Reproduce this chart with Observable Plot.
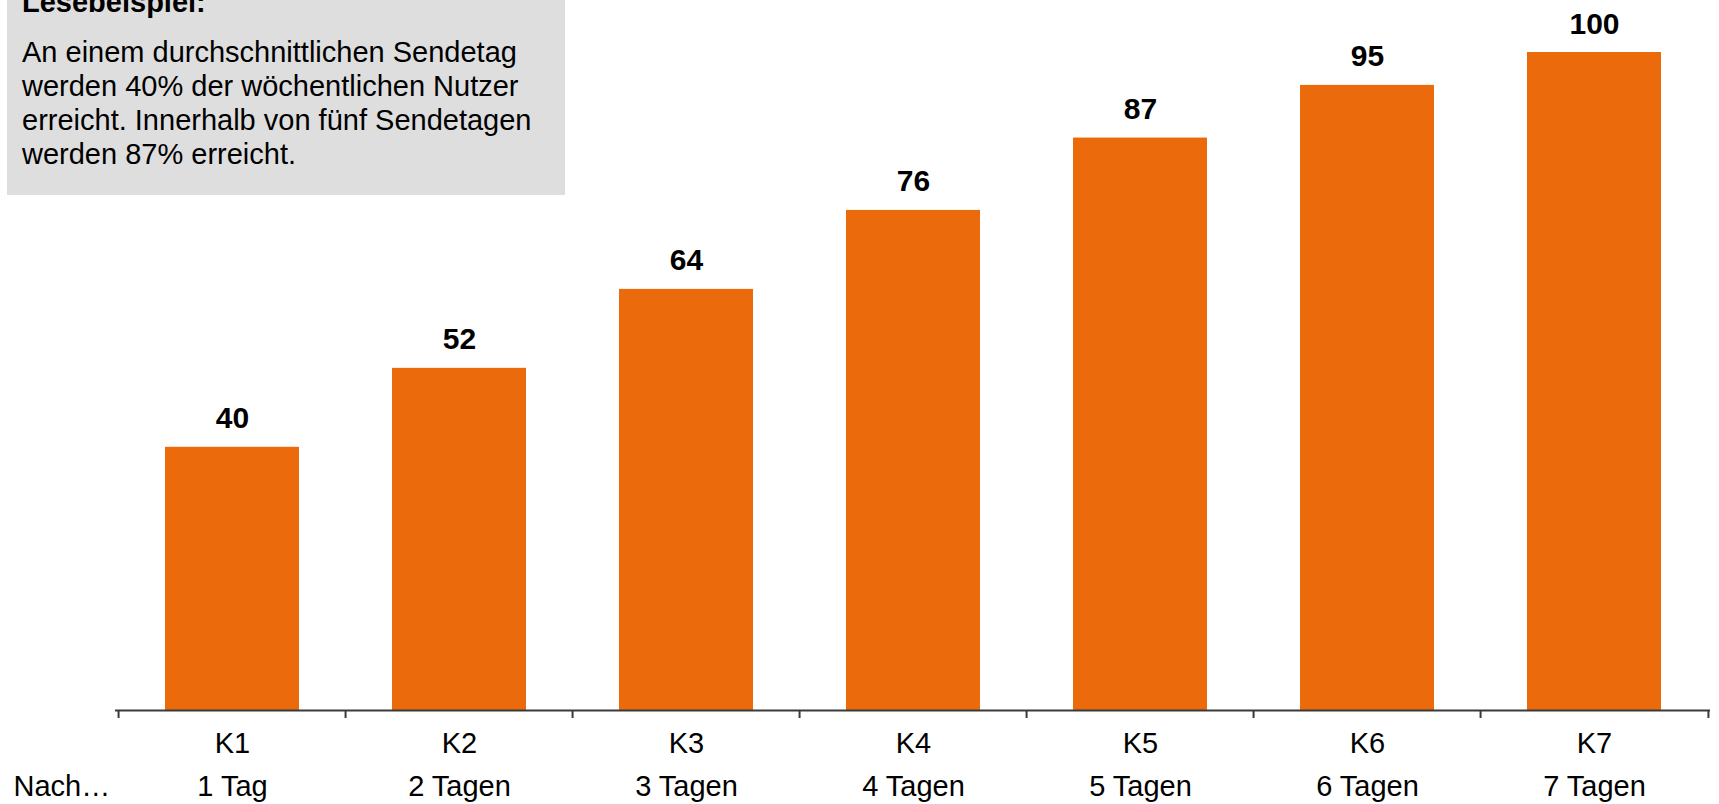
<!DOCTYPE html>
<html>
<head>
<meta charset="utf-8">
<script src="https://cdn.jsdelivr.net/npm/d3@7"></script>
<script src="https://cdn.jsdelivr.net/npm/@observablehq/plot@0.6"></script>
<style>
  html, body { margin: 0; padding: 0; background: #fff; }
  #wrap { position: relative; width: 1719px; height: 804px; overflow: hidden; font-family: "Liberation Sans", Arial, sans-serif; }
  #note { position: absolute; left: 7px; top: 0; width: 558px; height: 195px; background: #dedede; z-index: 2; }
  #note .t { position: absolute; left: 15px; white-space: nowrap; font-size: 29px; line-height: 34px; color: #000; }
</style>
</head>
<body>
<div id="wrap">
  <div id="note"></div>
  <div id="chart"></div>
</div>
<script>
const categories = ["K1", "K2", "K3", "K4", "K5", "K6", "K7"];
const values = [40, 52, 64, 76, 87, 95, 100];
const dayLabels = ["1 Tag", "2 Tagen", "3 Tagen", "4 Tagen", "5 Tagen", "6 Tagen", "7 Tagen"];
const rowLabel = "Nach…";
const noteTitle = "Lesebeispiel:";
const noteLines = [
  "An einem durchschnittlichen Sendetag",
  "werden 40% der wöchentlichen Nutzer",
  "erreicht. Innerhalb von fünf Sendetagen",
  "werden 87% erreicht."
];

const data = categories.map((c, i) => ({cat: c, value: values[i], day: dayLabels[i]}));

const W = 1719, H = 804, mL = 115, mR = 9, mT = 52, mB = 94;
const step = (W - mL - mR) / categories.length;
const axisColor = "#3a3a3a";

const chart = Plot.plot({
  width: W,
  height: H,
  marginLeft: mL,
  marginRight: mR,
  marginTop: mT,
  marginBottom: mB,
  style: {fontFamily: "'Liberation Sans', Arial, sans-serif", fontSize: "29px", color: "#000", background: "#fff"},
  x: {domain: categories, paddingInner: 0.41, paddingOuter: 0.205},
  y: {domain: [0, 100], axis: null},
  marks: [
    Plot.barY(data, {x: "cat", y: "value", fill: "#EB6B0C"}),
    Plot.ruleY([0], {stroke: axisColor, strokeWidth: 2}),
    Plot.ruleX(categories, {x: d => d, y1: 0, y2: 0, dx: -step / 2, insetBottom: -8, stroke: axisColor, strokeWidth: 2}),
    Plot.ruleX(categories.slice(-1), {x: d => d, y1: 0, y2: 0, dx: step / 2, insetBottom: -8, stroke: axisColor, strokeWidth: 2}),
    Plot.axisX({tickSize: 0, tickPadding: 22, fontSize: 29, label: null, fill: "#000"}),
    Plot.text(data, {x: "cat", text: "day", frameAnchor: "bottom", dy: 85, lineAnchor: "bottom", fontSize: 29, fill: "#000"}),
    Plot.text([rowLabel], {text: d => d, frameAnchor: "bottom-left", dx: -102, dy: 85, textAnchor: "start", lineAnchor: "bottom", fontSize: 29, fill: "#000"}),
    Plot.text(data, {x: "cat", y: "value", text: d => String(d.value), dy: -19, lineAnchor: "bottom", fontWeight: "bold", fontSize: 30, fill: "#000"})
  ]
});
document.getElementById("chart").appendChild(chart);

const note = document.getElementById("note");
const title = document.createElement("div");
title.className = "t";
title.style.top = "-15px";
title.style.fontWeight = "bold";
title.textContent = noteTitle;
note.appendChild(title);
noteLines.forEach((line, i) => {
  const el = document.createElement("div");
  el.className = "t";
  el.style.top = (35 + i * 34) + "px";
  el.textContent = line;
  note.appendChild(el);
});
</script>
</body>
</html>
